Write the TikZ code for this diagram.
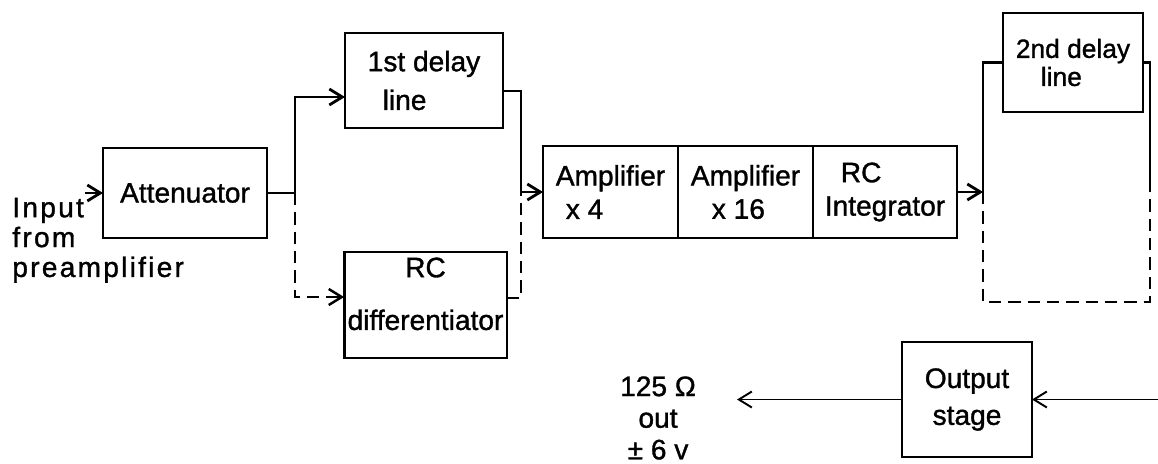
\documentclass[tikz,border=0pt]{standalone}
\usepackage{fontspec}
\setmainfont{Liberation Sans}[FakeBold=1.2]
\usetikzlibrary{arrows.meta,positioning}

\begin{document}
\begin{tikzpicture}[
    blk/.style={rectangle, draw, line width=1.6pt, outer sep=0pt, inner sep=2pt,
        font=\fontsize{16}{19}\selectfont},
    wire/.style={line width=1.6pt},
    arr/.style={-{Straight Barb[length=2.6mm, width=3.2mm]}, line width=1.6pt},
    dsh/.style={line width=1.4pt, dash pattern=on 7pt off 4pt},
    dsharr/.style={dsh, -{Straight Barb[length=2.6mm, width=3.2mm]}},
    outarr/.style={-{Straight Barb[length=2.6mm, width=3.2mm]}, line width=1.1pt}
]
    \useasboundingbox (0,0) rectangle (23.16,-9.26);

    % Input
    \node[font=\fontsize{16}{17}\selectfont\addfontfeatures{LetterSpace=8},
        align=left, anchor=north west, inner sep=0pt] (inlbl) at (0.24,-3.95)
        {Input\\from\\preamplifier};
    \coordinate (instart) at (1.70,-3.86);
    \node[blk, minimum width=3.28cm, minimum height=1.80cm] (att) at (3.70,-3.86) {Attenuator};
    \draw[arr] (instart) -- (att.west);

    % Delay line and differentiator branches
    \node[blk, minimum width=3.16cm, minimum height=1.90cm, align=left] (dl1) at (8.48,-1.61)
        {1st delay\\[3pt]\hspace*{0.3cm}line};
    \node[blk, minimum width=3.10cm, minimum height=2.12cm, align=center, text depth=0.45cm] (rcd)
        at (8.51,-6.10) {RC\\[11pt]differentiator};

    \coordinate (split) at (5.90,-3.86);
    \draw[wire] (att.east) -- (split);
    \draw[arr] (split) |- ([yshift=-0.33cm]dl1.west);
    \draw[dsharr] (split) |- ([yshift=0.16cm]rcd.west);

    % Amplifier chain
    \node[blk, minimum width=2.70cm, minimum height=1.84cm, align=left] (amp1) at (12.21,-3.84)
        {Amplifier\\\hspace*{0.2cm}x 4};
    \node[blk, minimum width=2.70cm, minimum height=1.84cm, align=left, right=0pt of amp1] (amp2)
        {Amplifier\\\hspace*{0.42cm}x 16};
    \node[blk, minimum width=2.88cm, minimum height=1.84cm, align=left, right=0pt of amp2] (rci)
        {\hspace*{0.32cm}RC\\Integrator};

    \coordinate (join1) at (10.42,-3.84);
    \draw[wire] ([yshift=-0.21cm]dl1.east) -| (join1);
    \draw[dsh] ([yshift=0.14cm]rcd.east) -| (join1);
    \draw[arr] (join1) -- (amp1.west);

    % Second delay line loop
    \node[blk, minimum width=2.80cm, minimum height=1.98cm, align=left,
        font=\fontsize{15}{16}\selectfont] (dl2) at (21.46,-1.25)
        {2nd delay\\\hspace*{0.5cm}line};
    \coordinate (loopL) at (19.66,-3.84);
    \coordinate (loopR) at (23.00,-3.66);
    \coordinate (loopBL) at (19.66,-6.04);
    \coordinate (loopBR) at (23.00,-6.04);
    \draw[arr] (rci.east) -- (loopL);
    \draw[wire] (loopL) |- (dl2.west);
    \draw[wire] (dl2.east) -| (loopR);
    \draw[dsh] (loopL) -- (loopBL) -- (loopBR) -- (loopR);

    % Output stage
    \node[blk, minimum width=2.60cm, minimum height=2.30cm, align=center] (outst) at (19.34,-7.99)
        {Output\\[2pt]stage};
    \coordinate (outin) at (23.16,-7.99);
    \coordinate (outend) at (14.74,-7.99);
    \draw[outarr] (outin) -- (outst.east);
    \draw[outarr] (outst.west) -- (outend);
    \node[align=center, font=\fontsize{16}{18}\selectfont] (outlbl) at (13.16,-8.36)
        {125 Ω\\out\\± 6 v};
\end{tikzpicture}
\end{document}
